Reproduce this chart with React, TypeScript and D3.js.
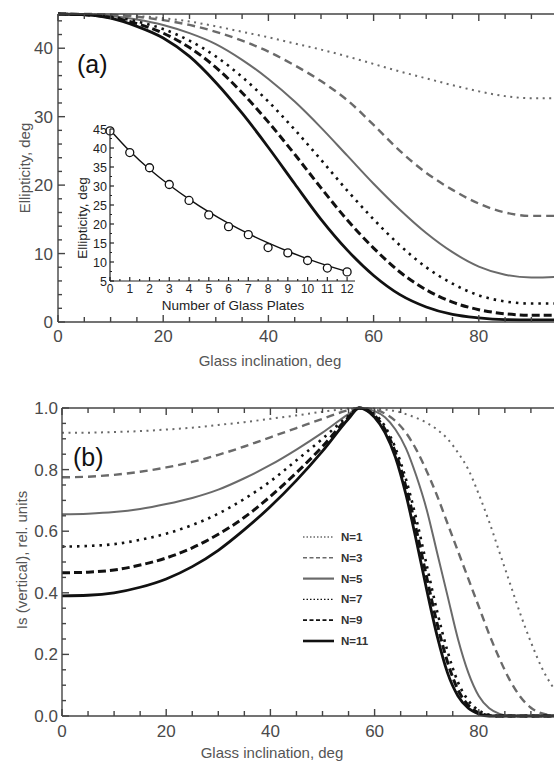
import React from 'react';
import * as d3 from 'd3';

// (a) ellipticity vs glass inclination
const topAngles = [0, 5, 10, 15, 20, 25, 30, 35, 40, 45, 50, 55, 60, 65, 70, 75, 80, 85, 90, 95, 100];
const ellN1 = [45, 45, 44.9, 44.7, 44.4, 43.9, 43.2, 42.4, 41.6, 40.7, 39.8, 38.8, 37.7, 36.6, 35.6, 34.6, 33.7, 33.0, 32.7, 32.7, 32.9];
const ellN3 = [45, 45, 44.9, 44.6, 44.1, 43.4, 42.4, 41.1, 39.5, 37.5, 35.2, 32.4, 28.8, 25.0, 21.8, 19.3, 17.3, 16.0, 15.5, 15.5, 15.8];
const ellN5 = [45, 44.95, 44.7, 44.2, 43.4, 42.2, 40.6, 38.3, 35.5, 32.2, 28.4, 24.3, 20.2, 16.4, 13.0, 10.2, 8.1, 6.9, 6.5, 6.6, 6.9];
const ellN7 = [45, 44.9, 44.6, 43.9, 42.8, 41.1, 38.8, 35.8, 32.2, 28.1, 23.7, 19.2, 15.0, 11.2, 8.0, 5.6, 3.9, 3.0, 2.7, 2.7, 2.8];
const ellN9 = [45, 44.9, 44.5, 43.6, 42.2, 40.1, 37.2, 33.5, 29.2, 24.5, 19.6, 14.9, 10.8, 7.3, 4.7, 2.9, 1.8, 1.2, 1.0, 1.0, 1.0];
const ellN11 = [45, 44.9, 44.4, 43.2, 41.5, 38.8, 35.0, 30.5, 25.5, 20.2, 15.0, 10.5, 6.8, 4.0, 2.2, 1.1, 0.6, 0.35, 0.3, 0.3, 0.3];

// inset: ellipticity vs number of plates
const plates = [0, 1, 2, 3, 4, 5, 6, 7, 8, 9, 10, 11, 12];
const insetMeasured = [44.5, 38.8, 34.8, 30.4, 26.2, 22.4, 19.3, 17.2, 13.8, 12.4, 10.4, 8.4, 7.4];
const insetFit = [44.8, 39.0, 34.3, 30.2, 26.5, 23.1, 20.1, 17.4, 15.0, 12.8, 10.8, 9.0, 7.5];

// (b) Is (vertical) vs glass inclination
const botAngles = [0, 5, 10, 15, 20, 25, 30, 35, 40, 45, 50, 55, 57, 60, 62, 64, 66, 68, 70, 72, 74, 76, 78, 80, 82, 84, 86, 88, 90, 92, 94, 96, 100];
const isN1 = [0.92, 0.92, 0.922, 0.925, 0.93, 0.936, 0.945, 0.954, 0.965, 0.976, 0.988, 0.998, 1.0, 0.998, 0.995, 0.99, 0.98, 0.968, 0.952, 0.93, 0.9, 0.855, 0.8, 0.72, 0.63, 0.53, 0.43, 0.33, 0.24, 0.16, 0.1, 0.06, 0.02];
const isN3 = [0.775, 0.777, 0.783, 0.793, 0.807, 0.825, 0.848, 0.875, 0.905, 0.935, 0.965, 0.993, 1.0, 0.995, 0.982, 0.958, 0.92, 0.865, 0.795, 0.715, 0.625, 0.535, 0.445, 0.355, 0.265, 0.185, 0.115, 0.062, 0.027, 0.009, 0.002, 0, 0];
const isN5 = [0.655, 0.657, 0.662, 0.672, 0.688, 0.708, 0.735, 0.772, 0.815, 0.865, 0.92, 0.98, 1.0, 0.99, 0.97, 0.93, 0.87, 0.78, 0.67, 0.53, 0.39, 0.25, 0.14, 0.065, 0.025, 0.007, 0.001, 0, 0, 0, 0, 0, 0];
const isN7 = [0.55, 0.552, 0.558, 0.572, 0.592, 0.62, 0.657, 0.705, 0.762, 0.83, 0.9, 0.975, 1.0, 0.98, 0.94, 0.87, 0.77, 0.64, 0.49, 0.34, 0.21, 0.11, 0.05, 0.018, 0.004, 0, 0, 0, 0, 0, 0, 0, 0];
const isN9 = [0.465, 0.467, 0.474, 0.49, 0.513, 0.546, 0.59, 0.645, 0.713, 0.79, 0.875, 0.97, 1.0, 0.975, 0.93, 0.855, 0.745, 0.605, 0.45, 0.3, 0.175, 0.085, 0.035, 0.01, 0.002, 0, 0, 0, 0, 0, 0, 0, 0];
const isN11 = [0.39, 0.392, 0.4, 0.418, 0.445, 0.485, 0.538, 0.605, 0.68, 0.765, 0.86, 0.965, 1.0, 0.97, 0.92, 0.84, 0.72, 0.57, 0.41, 0.26, 0.14, 0.065, 0.025, 0.007, 0, 0, 0, 0, 0, 0, 0, 0, 0];

const legendLabels = ['N=1', 'N=3', 'N=5', 'N=7', 'N=9', 'N=11'];
const topXTicks = [0, 20, 40, 60, 80];
const topYTicks = [0, 10, 20, 30, 40];
const botYTicks = [0, 0.2, 0.4, 0.6, 0.8, 1.0];
const insetYTicks = [5, 10, 15, 20, 25, 30, 35, 40, 45];

const GRAY = '#6a6a6a';
const styles = [
  { color: GRAY, width: 2, dash: '2,4.5' },
  { color: GRAY, width: 2.4, dash: '8,5' },
  { color: GRAY, width: 2, dash: null },
  { color: '#111', width: 2.6, dash: '2.5,5' },
  { color: '#111', width: 3, dash: '8,4' },
  { color: '#111', width: 2.8, dash: null },
];
const legendStyles = [
  { color: GRAY, width: 1.3, dash: '1.5,2' },
  { color: GRAY, width: 1.6, dash: '4,2.5' },
  { color: GRAY, width: 2.2, dash: null },
  { color: '#111', width: 1.3, dash: '1.5,2' },
  { color: '#111', width: 1.8, dash: '4,2.5' },
  { color: '#111', width: 2.6, dash: null },
];

const FONT = '"Liberation Sans", Arial, sans-serif';
const AXIS = '#444';
const LABEL = '#4a4a4a';
const TITLE = '#555';

export default function App() {
  const W = 554;
  const H = 762;

  // panel (a)
  const xA = d3.scaleLinear().domain([0, 100]).range([58, 58 + 526]);
  const yA = d3.scaleLinear().domain([0, 45]).range([322, 14]);
  const lineA = d3.line<number>().x((_, i) => xA(topAngles[i])).y(d => yA(d)).curve(d3.curveMonotoneX);
  const topSeries = [ellN1, ellN3, ellN5, ellN7, ellN9, ellN11];

  // inset
  const xI = d3.scaleLinear().domain([0, 12.4]).range([110, 355]);
  const yI = d3.scaleLinear().domain([5, 45]).range([281, 129]);
  const lineI = d3.line<number>().x((_, i) => xI(plates[i])).y(d => yI(d)).curve(d3.curveBasis);

  // panel (b)
  const xB = d3.scaleLinear().domain([0, 100]).range([62, 62 + 521]);
  const yB = d3.scaleLinear().domain([0, 1]).range([716, 408]);
  const lineB = d3.line<number>().x((_, i) => xB(botAngles[i])).y(d => yB(d)).curve(d3.curveMonotoneX);
  const botSeries = [isN1, isN3, isN5, isN7, isN9, isN11];

  const xMinor = d3.range(0, 101, 5);

  return (
    <svg width={W} height={H} style={{ position: 'absolute', left: 0, top: 0, background: '#fff' }} fontFamily={FONT}>
      <defs>
        <clipPath id="clipA"><rect x={58} y={8} width={W - 58} height={322 - 8 + 2} /></clipPath>
        <clipPath id="clipB"><rect x={62} y={402} width={W - 62} height={716 - 402 + 2} /></clipPath>
      </defs>

      {/* ---------- panel (a) ---------- */}
      <g clipPath="url(#clipA)">
        {topSeries.map((s, k) => (
          <path key={k} d={lineA(s) || ''} fill="none" stroke={styles[k].color}
            strokeWidth={styles[k].width} strokeDasharray={styles[k].dash || undefined} />
        ))}
      </g>
      <g stroke={AXIS} strokeWidth={1.4} fill="none">
        <line x1={xA(0)} x2={W} y1={yA(0)} y2={yA(0)} />
        <line x1={xA(0)} x2={W} y1={yA(45)} y2={yA(45)} />
        <line x1={xA(0)} x2={xA(0)} y1={yA(0)} y2={yA(45)} />
        {xMinor.map(v => (
          <g key={v}>
            <line x1={xA(v)} x2={xA(v)} y1={yA(0)} y2={yA(0) - (v % 20 === 0 ? 7 : 5)} />
            <line x1={xA(v)} x2={xA(v)} y1={yA(45)} y2={yA(45) + (v % 20 === 0 ? 7 : 5)} />
          </g>
        ))}
        {d3.range(0, 45, 2).map(v => (
          <line key={v} x1={xA(0)} x2={xA(0) + (v % 10 === 0 ? 7 : 4)} y1={yA(v)} y2={yA(v)} />
        ))}
      </g>
      {topYTicks.map(v => (
        <text key={v} x={xA(0) - 5} y={yA(v) + 6} textAnchor="end" fontSize={17} fill={LABEL}>{v}</text>
      ))}
      {topXTicks.map(v => (
        <text key={v} x={xA(v)} y={yA(0) + 20} textAnchor="middle" fontSize={17} fill={LABEL}>{v}</text>
      ))}
      <text x={270} y={366} textAnchor="middle" fontSize={15} fill={TITLE}>Glass inclination, deg</text>
      <text transform={`translate(30,168) rotate(-90)`} textAnchor="middle" fontSize={15} fill={TITLE}>Ellipticity, deg</text>
      <text x={77} y={73} fontSize={25} fill="#111">(a)</text>

      {/* inset */}
      <path d={lineI(insetFit) || ''} fill="none" stroke="#111" strokeWidth={1.4} />
      {insetMeasured.map((v, i) => (
        <circle key={i} cx={xI(plates[i])} cy={yI(v)} r={4} fill="#fff" stroke="#111" strokeWidth={1.3} />
      ))}
      <g stroke="#222" strokeWidth={1.2} fill="none">
        <line x1={xI(0)} x2={xI(12.4)} y1={yI(5)} y2={yI(5)} />
        <line x1={xI(0)} x2={xI(0)} y1={yI(5)} y2={yI(45)} />
        {d3.range(0, 12.5, 0.5).map(v => (
          <line key={v} x1={xI(v)} x2={xI(v)} y1={yI(5)} y2={yI(5) - (v % 1 === 0 ? 4 : 2)} />
        ))}
        {d3.range(5, 45.1, 2.5).map(v => (
          <line key={v} x1={xI(0)} x2={xI(0) + (v % 5 === 0 ? 4 : 2)} y1={yI(v)} y2={yI(v)} />
        ))}
      </g>
      {insetYTicks.map(v => (
        <text key={v} x={xI(0) - 3} y={yI(v) + 4.5} textAnchor="end" fontSize={12.5} fill="#222">{v}</text>
      ))}
      {plates.map(v => (
        <text key={v} x={xI(v)} y={yI(5) + 12} textAnchor="middle" fontSize={12} fill="#222">{v}</text>
      ))}
      <text x={233} y={310} textAnchor="middle" fontSize={13.5} fill="#222">Number of Glass Plates</text>
      <text transform={`translate(87,218) rotate(-90)`} textAnchor="middle" fontSize={13.5} fill="#222">Ellipticity, deg</text>

      {/* ---------- panel (b) ---------- */}
      <g clipPath="url(#clipB)">
        {botSeries.map((s, k) => (
          <path key={k} d={lineB(s) || ''} fill="none" stroke={styles[k].color}
            strokeWidth={styles[k].width} strokeDasharray={styles[k].dash || undefined} />
        ))}
      </g>
      <g stroke={AXIS} strokeWidth={1.4} fill="none">
        <line x1={xB(0)} x2={W} y1={yB(0)} y2={yB(0)} />
        <line x1={xB(0)} x2={W} y1={yB(1)} y2={yB(1)} />
        <line x1={xB(0)} x2={xB(0)} y1={yB(0)} y2={yB(1)} />
        {xMinor.map(v => (
          <g key={v}>
            <line x1={xB(v)} x2={xB(v)} y1={yB(0)} y2={yB(0) - (v % 20 === 0 ? 7 : 5)} />
            <line x1={xB(v)} x2={xB(v)} y1={yB(1)} y2={yB(1) + (v % 20 === 0 ? 7 : 5)} />
          </g>
        ))}
        {d3.range(0, 1.001, 0.05).map((v, i) => (
          <line key={i} x1={xB(0)} x2={xB(0) + (i % 4 === 0 ? 7 : 4)} y1={yB(v)} y2={yB(v)} />
        ))}
      </g>
      {botYTicks.map(v => (
        <text key={v} x={xB(0) - 4} y={yB(v) + 6} textAnchor="end" fontSize={17} fill={LABEL}>{v.toFixed(1)}</text>
      ))}
      {topXTicks.map(v => (
        <text key={v} x={xB(v)} y={yB(0) + 21} textAnchor="middle" fontSize={17} fill={LABEL}>{v}</text>
      ))}
      <text x={272} y={758} textAnchor="middle" fontSize={15} fill={TITLE}>Glass inclination, deg</text>
      <text transform={`translate(27,560) rotate(-90)`} textAnchor="middle" fontSize={15} fill={TITLE}>Is (vertical), rel. units</text>
      <text x={73} y={466} fontSize={25} fill="#111">(b)</text>

      {/* legend */}
      {legendLabels.map((lab, k) => (
        <g key={lab} transform={`translate(303,${537 + k * 20.8})`}>
          <line x1={0} x2={31} y1={0} y2={0} stroke={legendStyles[k].color}
            strokeWidth={legendStyles[k].width} strokeDasharray={legendStyles[k].dash || undefined} />
          <text x={38} y={4} fontSize={11.5} fontWeight="bold" fill="#333">{lab}</text>
        </g>
      ))}
    </svg>
  );
}
